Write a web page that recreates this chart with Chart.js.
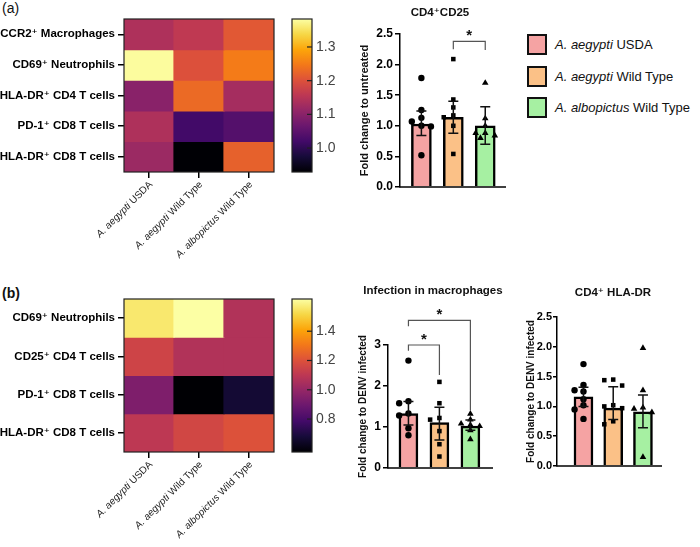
<!DOCTYPE html>
<html>
<head>
<meta charset="utf-8">
<script src="https://cdn.jsdelivr.net/npm/chart.js@4.4.1/dist/chart.umd.min.js"></script>
<style>
  body { margin: 0; background: #fff; }
  #fig { position: relative; width: 700px; height: 547px; overflow: hidden; font-family: 'Liberation Sans', Arial, sans-serif; }
  #fig canvas, .tag, .leg { position: absolute; }
  .tag { left: 2px; font-size: 14px; color: #111; }
  .leg { left: 527px; height: 21px; line-height: 21px; font-size: 13px; color: #111; white-space: nowrap; }
  .leg .sw { display: inline-block; box-sizing: border-box; width: 20px; height: 21px; border: 2.5px solid #111; vertical-align: top; }
  .leg .tx { position: absolute; left: 28px; top: 0; }
</style>
</head>
<body>
<div id="fig">
  <div class="tag" style="top:0">(a)</div>
  <div class="tag" style="top:285px;font-weight:bold">(b)</div>
</div>
<script>
// ---- data ----
const groups = ['A. aegypti USDA', 'A. aegypti Wild Type', 'A. albopictus Wild Type'];

const rowsA = ['CCR2⁺ Macrophages', 'CD69⁺ Neutrophils', 'HLA-DR⁺ CD4 T cells', 'PD-1⁺ CD8 T cells', 'HLA-DR⁺ CD8 T cells'];
const heatA = [
  [1.14, 1.16, 1.21],
  [1.38, 1.20, 1.25],
  [1.10, 1.23, 1.13],
  [1.14, 1.02, 1.04],
  [1.12, 0.93, 1.22]
];
const rangeA = [0.929, 1.383];
const cbarTicksA = [1.0, 1.1, 1.2, 1.3];

const rowsB = ['CD69⁺ Neutrophils', 'CD25⁺ CD4 T cells', 'PD-1⁺ CD8 T cells', 'HLA-DR⁺ CD8 T cells'];
const heatB = [
  [1.56, 1.62, 1.07],
  [1.15, 1.07, 1.07],
  [0.94, 0.575, 0.67],
  [1.10, 1.16, 1.20]
];
const rangeB = [0.575, 1.62];
const cbarTicksB = [0.8, 1.0, 1.2, 1.4];

// CD4+ CD25 (panel a)
const meansCD25 = [1.03, 1.14, 1.00];
const lowCD25 = [0.84, 0.88, 0.70];
const highCD25 = [1.24, 1.40, 1.31];
const dotsCD25 = [
  [1.78, 1.26, 1.13, 1.07, 1.00, 0.99, 0.52],
  [2.09, 1.43, 1.30, 1.17, 1.14, 1.00, 0.54],
  [1.70, 1.12, 1.00, 0.88, 0.88, 0.84, 0.80]
];
const ticksCD25 = [0, 0.5, 1.0, 1.5, 2.0, 2.5];
const sigCD25 = [{a: 1, b: 2, y: 2.38, ya: 2.25, yb: 2.24}];

// Infection in macrophages (panel b)
const meansInf = [1.33, 1.11, 1.02];
const lowInf = [1.05, 0.68, 0.92];
const highInf = [1.62, 1.48, 1.17];
const dotsInf = [
  [2.62, 1.63, 1.58, 1.33, 1.28, 0.97, 0.80],
  [2.10, 1.58, 1.22, 1.18, 0.90, 0.58, 0.28],
  [1.32, 1.18, 1.08, 1.05, 1.02, 0.92, 0.70]
];
const ticksInf = [0, 1, 2, 3];
const sigInf = [{a: 0, b: 1, y: 3.0, ya: 2.86, yb: 2.27}, {a: 0, b: 2, y: 3.6, ya: 3.46, yb: 1.4}];

// CD4+ HLA-DR (panel b)
const meansHLA = [1.16, 0.97, 0.91];
const lowHLA = [1.00, 0.78, 0.64];
const highHLA = [1.32, 1.33, 1.19];
const dotsHLA = [
  [1.71, 1.36, 1.27, 1.25, 1.12, 1.02, 0.95, 0.79],
  [1.45, 1.44, 1.35, 1.02, 1.00, 0.97, 0.75, 0.70],
  [1.98, 1.27, 0.98, 0.96, 0.90, 0.15]
];
const ticksHLA = [0, 0.5, 1.0, 1.5, 2.0, 2.5];

// ---- styling ----
const FAMILY = "'Liberation Sans', 'DejaVu Sans', Arial, sans-serif";
Chart.defaults.font.family = FAMILY;
const GROUP_COLORS = ['#f5a3a3', '#fbc187', '#a6f0a2'];
const DOT_STYLES = ['circle', 'rect', 'triangle'];
const INFERNO = ['#000004', '#160b39', '#420a68', '#6a176e', '#932667', '#bc3754',
                 '#dd513a', '#f37819', '#fca50a', '#f6d746', '#fcffa4'];

const fig = document.getElementById('fig');

function hex(h) { return [1, 3, 5].map(i => parseInt(h.slice(i, i + 2), 16)); }
function inferno(t) {
  t = Math.max(0, Math.min(1, t));
  const s = t * 10, i = Math.min(9, Math.floor(s)), f = s - i;
  const a = hex(INFERNO[i]), b = hex(INFERNO[i + 1]);
  return 'rgb(' + a.map((c, k) => Math.round(c + (b[k] - c) * f)).join(',') + ')';
}

function makeCanvas(l, t, w, h) {
  const c = document.createElement('canvas');
  c.width = w; c.height = h;
  c.style.cssText = `left:${l}px;top:${t}px;width:${w}px;height:${h}px`;
  fig.appendChild(c);
  return c;
}

function splitName(g) {
  const w = g.split(' ');
  return [w.slice(0, 2).join(' '), ' ' + w.slice(2).join(' ')];
}

// border around heatmap / colorbar, optional short ticks inside
const frame = {
  id: 'frame',
  afterDatasetsDraw(chart, args, o) {
    const {ctx, chartArea: a} = chart;
    ctx.save();
    ctx.strokeStyle = '#222';
    ctx.lineWidth = 1.2;
    ctx.strokeRect(a.left, a.top, a.right - a.left, a.bottom - a.top);
    (o.inner || []).forEach(v => {
      const py = chart.scales.y.getPixelForValue(v);
      ctx.beginPath(); ctx.moveTo(a.right - 5, py); ctx.lineTo(a.right, py); ctx.stroke();
    });
    ctx.restore();
  }
};

// rotated group names with italic species part
const slantLabels = {
  id: 'slantLabels',
  afterDraw(chart) {
    const {ctx, chartArea, scales: {x}} = chart;
    ctx.save();
    ctx.fillStyle = '#222';
    ctx.textBaseline = 'middle';
    chart.data.labels.forEach((lab, i) => {
      const parts = splitName(lab).map((t, k) => [t, (k === 0 ? 'italic ' : '') + '10px ' + FAMILY]);
      let total = 0;
      parts.forEach(([t, f]) => { ctx.font = f; total += ctx.measureText(t).width; });
      ctx.save();
      ctx.translate(x.getPixelForTick(i) + 2, chartArea.bottom + 11);
      ctx.rotate(-Math.PI / 4);
      let pos = -total;
      parts.forEach(([t, f]) => { ctx.font = f; ctx.fillText(t, pos, 0); pos += ctx.measureText(t).width; });
      ctx.restore();
    });
    ctx.restore();
  }
};

function heatmap(box, rows, values, range) {
  const [lo, hi] = range;
  const datasets = rows.map((r, i) => {
    const cols = values[i].map(v => inferno((v - lo) / (hi - lo)));
    return {
      data: groups.map(() => [i, i + 1]),
      backgroundColor: cols, borderWidth: 0, inflateAmount: 0.6,
      grouped: false, barPercentage: 1, categoryPercentage: 1
    };
  });
  return new Chart(makeCanvas(box.l, box.t, box.w, box.h), {
    type: 'bar',
    data: {labels: groups, datasets},
    options: {
      responsive: false, animation: false, events: [],
      layout: {padding: {top: box.top, right: box.right, left: 0, bottom: 0}},
      plugins: {legend: {display: false}, tooltip: {enabled: false}},
      scales: {
        x: {
          offset: true,
          ticks: {display: false},
          grid: {offset: false, drawOnChartArea: false, tickLength: 6, color: '#000', lineWidth: 1.5},
          border: {display: false},
          afterFit: s => { s.height = box.xh; }
        },
        y: {
          min: 0, max: rows.length, reverse: true,
          afterBuildTicks: s => { s.ticks = rows.map((_, i) => ({value: i + 0.5})); },
          ticks: {callback: (v, i) => rows[i], font: {size: 11.5, weight: 'bold'}, color: '#000', padding: 3, autoSkip: false},
          grid: {drawOnChartArea: false, tickLength: 6, color: '#000', lineWidth: 1.5},
          border: {display: false},
          afterFit: s => { s.width = box.yw; }
        }
      }
    },
    plugins: [frame, slantLabels]
  });
}

function colorbar(box, range, ticks) {
  const [lo, hi] = range;
  return new Chart(makeCanvas(box.l, box.t, box.w, box.h), {
    type: 'bar',
    data: {labels: [''], datasets: [{
      data: [[lo, hi]],
      backgroundColor: c => {
        const a = c.chart.chartArea;
        if (!a) return null;
        const g = c.chart.ctx.createLinearGradient(0, a.bottom, 0, a.top);
        INFERNO.forEach((h, k) => g.addColorStop(k / 10, h));
        return g;
      },
      barPercentage: 1, categoryPercentage: 1, borderWidth: 0, inflateAmount: 0
    }]},
    options: {
      responsive: false, animation: false, events: [],
      layout: {padding: {left: 7, top: box.top, bottom: box.bottom, right: 0}},
      plugins: {legend: {display: false}, tooltip: {enabled: false}, frame: {inner: ticks}},
      scales: {
        x: {display: false},
        y: {
          position: 'right', min: lo, max: hi,
          afterBuildTicks: s => { s.ticks = ticks.map(v => ({value: v})); },
          ticks: {callback: v => v.toFixed(1), font: {size: 14}, color: '#444', padding: 4},
          grid: {display: false, drawTicks: false},
          border: {display: false},
          afterFit: s => { s.width = box.w - 27; }
        }
      }
    },
    plugins: [frame]
  });
}

function spread(vals, near) {
  const slots = [0, -1, 1, -0.5, 0.5, -1.5, 1.5];
  const placed = [];
  return vals.map(v => {
    const taken = placed.filter(p => Math.abs(p.v - v) < near).map(p => p.o);
    const o = slots.find(s => !taken.includes(s)) ?? 0;
    placed.push({v, o});
    return o;
  });
}

// error bars, x axis line, significance brackets, title
const barExtras = {
  id: 'barExtras',
  afterDatasetsDraw(chart, args, o) {
    const {ctx, scales: {x, y}} = chart;
    ctx.save();
    ctx.strokeStyle = '#111';
    ctx.lineWidth = 1.5;
    o.low.forEach((lo, g) => {
      const px = x.getPixelForValue(g + 1);
      const y1 = y.getPixelForValue(lo), y2 = y.getPixelForValue(o.high[g]);
      ctx.beginPath();
      ctx.moveTo(px, y1); ctx.lineTo(px, y2);
      ctx.moveTo(px - 5, y1); ctx.lineTo(px + 5, y1);
      ctx.moveTo(px - 5, y2); ctx.lineTo(px + 5, y2);
      ctx.stroke();
    });
    ctx.restore();
  },
  afterDraw(chart, args, o) {
    const {ctx, chartArea: a, scales: {x, y}} = chart;
    ctx.save();
    ctx.strokeStyle = '#000';
    ctx.lineWidth = 1.5;
    ctx.beginPath(); ctx.moveTo(a.left - 0.75, a.bottom); ctx.lineTo(a.right, a.bottom); ctx.stroke();
    (o.sig || []).forEach(s => {
      const xa = x.getPixelForValue(s.a + 1), xb = x.getPixelForValue(s.b + 1), py = y.getPixelForValue(s.y);
      ctx.strokeStyle = '#555';
      ctx.lineWidth = 1.2;
      ctx.beginPath();
      ctx.moveTo(xa, y.getPixelForValue(s.ya)); ctx.lineTo(xa, py);
      ctx.lineTo(xb, py); ctx.lineTo(xb, y.getPixelForValue(s.yb));
      ctx.stroke();
      ctx.fillStyle = '#111';
      ctx.font = 'bold 15px ' + FAMILY;
      ctx.textAlign = 'center';
      ctx.textBaseline = 'alphabetic';
      ctx.fillText('*', (xa + xb) / 2, py - 1);
    });
    ctx.fillStyle = '#111';
    ctx.font = 'bold 11.5px ' + FAMILY;
    ctx.textAlign = 'center';
    ctx.textBaseline = 'middle';
    ctx.fillText(o.title, o.tx, o.ty);
    ctx.restore();
  }
};

function barPanel(box, p) {
  const top = p.ticks[p.ticks.length - 1];
  const near = top * 0.04;
  const dots = p.dots.map((vals, g) => ({
    type: 'scatter',
    data: spread(vals, near).map((o, k) => ({x: g + 1 + o * 0.3, y: vals[k]})),
    pointStyle: DOT_STYLES[g],
    pointRadius: g === 2 ? 3.8 : 3.2,
    backgroundColor: '#000', borderWidth: 0, order: 1
  }));
  return new Chart(makeCanvas(box.l, box.t, box.w, box.h), {
    type: 'bar',
    data: {datasets: [{
      data: p.means.map((m, g) => ({x: g + 1, y: m})),
      backgroundColor: GROUP_COLORS, borderColor: '#000', borderWidth: 2.5,
      barThickness: box.bw, order: 2
    }, ...dots]},
    options: {
      responsive: false, animation: false, events: [],
      layout: {padding: box.pad},
      plugins: {
        legend: {display: false}, tooltip: {enabled: false},
        barExtras: {low: p.low, high: p.high, sig: p.sig, title: p.title, tx: box.tx, ty: box.ty}
      },
      scales: {
        x: {type: 'linear', display: false, offset: false, min: box.xmin, max: box.xmax},
        y: {
          min: 0, max: top,
          afterBuildTicks: s => { s.ticks = p.ticks.map(v => ({value: v})); },
          ticks: {callback: p.fmt, font: {size: box.fsz, weight: 'bold'}, color: '#000', padding: box.tpad},
          grid: {drawOnChartArea: false, tickLength: box.tl, color: '#000', lineWidth: 1.5},
          border: {color: '#000', width: 1.5},
          title: {display: true, text: p.yTitle, font: {size: box.tsz, weight: 'bold'}, color: '#111', padding: {top: 4, bottom: 0}},
          afterFit: s => { s.width = box.yw; }
        }
      }
    },
    plugins: [barExtras]
  });
}

// ---- panel (a) ----
heatmap({l: 0, t: 0, w: 282, h: 272, top: 19, right: 8, yw: 124, xh: 100}, rowsA, heatA, rangeA);
colorbar({l: 285, t: 0, w: 60, h: 200, top: 19, bottom: 28}, rangeA, cbarTicksA);
barPanel({l: 350, t: 0, w: 160, h: 200, pad: {left: 4, top: 34, right: 3, bottom: 13}, yw: 46,
          xmin: 0.33, xmax: 3.65, bw: 20, tsz: 11, fsz: 12, tl: 5, tpad: 2, tx: 90, ty: 13},
         {title: 'CD4⁺CD25', yTitle: 'Fold change to untreated', means: meansCD25, low: lowCD25, high: highCD25,
          dots: dotsCD25, ticks: ticksCD25, sig: sigCD25, fmt: v => v.toFixed(1)});

groups.forEach((g, i) => {
  const d = document.createElement('div');
  d.className = 'leg';
  d.style.top = (34 + i * 31.5) + 'px';
  const [sp, rest] = splitName(g);
  d.innerHTML = `<span class="sw" style="background:${GROUP_COLORS[i]}"></span><span class="tx"><i>${sp}</i>${rest}</span>`;
  fig.appendChild(d);
});

// ---- panel (b) ----
heatmap({l: 0, t: 280, w: 282, h: 267, top: 19, right: 8, yw: 124, xh: 95}, rowsB, heatB, rangeB);
colorbar({l: 285, t: 280, w: 60, h: 200, top: 19, bottom: 28}, rangeB, cbarTicksB);
barPanel({l: 340, t: 280, w: 175, h: 200, pad: {left: 13.5, top: 65, right: 22, bottom: 12}, yw: 34.5,
          xmin: 0.34, xmax: 3.73, bw: 19, tsz: 10, fsz: 12, tl: 5, tpad: 2, tx: 93, ty: 11},
         {title: 'Infection in macrophages', yTitle: 'Fold change to DENV infected', means: meansInf, low: lowInf, high: highInf,
          dots: dotsInf, ticks: ticksInf, sig: sigInf, fmt: v => String(v)});
barPanel({l: 510, t: 280, w: 190, h: 200, pad: {left: 11, top: 37, right: 38, bottom: 14}, yw: 36,
          xmin: 0.11, xmax: 3.64, bw: 19, tsz: 10, fsz: 11, tl: 4, tpad: 1, tx: 103, ty: 13},
         {title: 'CD4⁺ HLA-DR', yTitle: 'Fold change to DENV infected', means: meansHLA, low: lowHLA, high: highHLA,
          dots: dotsHLA, ticks: ticksHLA, sig: [], fmt: v => v.toFixed(1)});
</script>
</body>
</html>
